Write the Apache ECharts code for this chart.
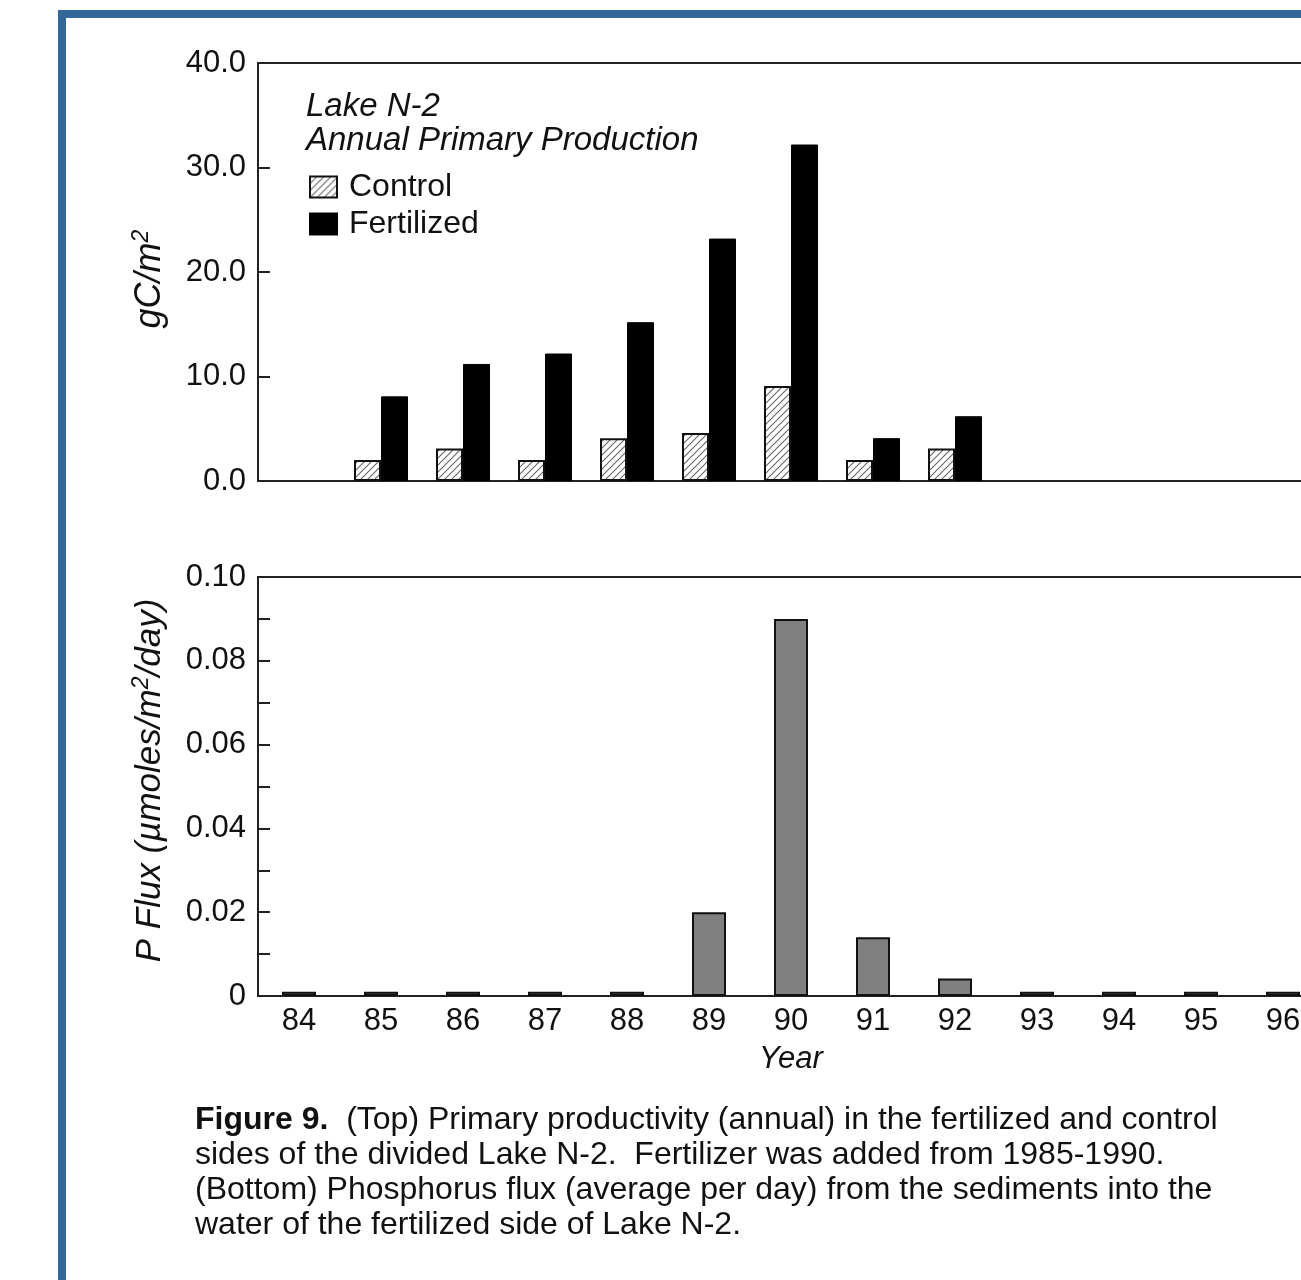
<!DOCTYPE html>
<html>
<head>
<meta charset="utf-8">
<script src="https://cdn.jsdelivr.net/npm/echarts@6/dist/echarts.min.js"></script>
<style>
html,body{margin:0;padding:0;background:#fff;overflow:hidden;}
#chart{width:1330px;height:1280px;}
</style>
</head>
<body>
<div id="chart"></div>
<script>
// ---- data ----
const years = ['84','85','86','87','88','89','90','91','92','93','94','95','96'];
const controlVals = [null, 2.0, 3.1, 2.0, 4.1, 4.6, 9.1, 2.0, 3.1, null, null, null, null];
const fertilizedVals = [null, 8.1, 11.2, 12.2, 15.2, 23.2, 32.2, 4.1, 6.2, null, null, null, null];
const pFluxVals = [0.001, 0.001, 0.001, 0.001, 0.001, 0.020, 0.090, 0.014, 0.0042, 0.001, 0.001, 0.001, 0.001];
const captionLines = [
  ['Figure 9.', '  (Top) Primary productivity (annual) in the fertilized and control'],
  ['', 'sides of the divided Lake N-2.  Fertilizer was added from 1985-1990.'],
  ['', '(Bottom) Phosphorus flux (average per day) from the sediments into the'],
  ['', 'water of the fertilized side of Lake N-2.']
];

const FONT = "'Liberation Sans', Arial, Helvetica, sans-serif";
const INK = '#111';

function hatchPattern() {
  const s = 7;
  const c = document.createElement('canvas');
  c.width = s; c.height = s;
  const g = c.getContext('2d');
  g.fillStyle = '#fff';
  g.fillRect(0, 0, s, s);
  g.strokeStyle = '#666';
  g.lineWidth = 1.1;
  g.beginPath();
  g.moveTo(-1, s + 1); g.lineTo(s + 1, -1);
  g.moveTo(-1, 1); g.lineTo(1, -1);
  g.moveTo(s - 1, s + 1); g.lineTo(s + 1, s - 1);
  g.stroke();
  return c;
}
const hatch = { image: hatchPattern(), repeat: 'repeat' };

const axisLineStyle = { color: '#222', width: 2 };

const chart = echarts.init(document.getElementById('chart'), null, { renderer: 'canvas' });

const captionText = captionLines.map(l => (l[0] ? '{b|' + l[0] + '}' : '') + '{n|' + l[1] + '}').join('\n');

chart.setOption({
  animation: false,
  backgroundColor: '#fff',
  textStyle: { fontFamily: FONT, color: INK },
  title: {
    text: 'Lake N-2\nAnnual Primary Production',
    left: 306, top: 90, padding: 0,
    textStyle: { fontFamily: FONT, fontSize: 33, fontStyle: 'italic', fontWeight: 'normal', lineHeight: 34, color: INK }
  },
  legend: {
    data: ['Control', 'Fertilized'],
    orient: 'vertical',
    left: 309, top: 171, padding: 0,
    itemWidth: 27, itemHeight: 21, itemGap: 5,
    selectedMode: false,
    icon: 'rect',
    textStyle: { fontFamily: FONT, fontSize: 32, color: INK, lineHeight: 30, padding: [0, 0, 0, 7] }
  },
  grid: [
    { left: 258, top: 63, width: 1066, height: 418, show: true, borderColor: '#222', borderWidth: 2, backgroundColor: 'transparent' },
    { left: 258, top: 577, width: 1066, height: 419, show: true, borderColor: '#222', borderWidth: 2, backgroundColor: 'transparent' }
  ],
  xAxis: [
    {
      gridIndex: 0, type: 'category', data: years,
      axisLine: { lineStyle: axisLineStyle },
      axisTick: { inside: true, length: 7, interval: 0, lineStyle: { color: '#222', width: 2 } },
      axisLabel: { show: false },
      splitLine: { show: false }
    },
    {
      gridIndex: 1, type: 'category', data: years,
      axisLine: { lineStyle: axisLineStyle },
      axisTick: { inside: true, length: 7, interval: 0, lineStyle: { color: '#222', width: 2 } },
      axisLabel: { fontFamily: FONT, fontSize: 31, color: INK, margin: 10, interval: 0 },
      splitLine: { show: false },
      name: 'Year', nameLocation: 'middle', nameGap: 48,
      nameTextStyle: { fontFamily: FONT, fontSize: 31, fontStyle: 'italic', color: INK }
    }
  ],
  yAxis: [
    {
      gridIndex: 0, type: 'value', min: 0, max: 40, interval: 10,
      axisLine: { show: true, lineStyle: axisLineStyle },
      axisTick: { show: true, inside: true, length: 12, lineStyle: { color: '#222', width: 2 } },
      axisLabel: { fontFamily: FONT, fontSize: 31, color: INK, margin: 12, formatter: v => v.toFixed(1) },
      splitLine: { show: false },
      name: '{a|gC/m}{s|2}', nameLocation: 'middle', nameGap: 88, nameRotate: 90,
      nameTextStyle: {
        padding: [0, 14, 0, 0],
        rich: {
          a: { fontFamily: FONT, fontSize: 36, fontStyle: 'italic', color: INK, lineHeight: 40 },
          s: { fontFamily: FONT, fontSize: 23, fontStyle: 'italic', color: INK, verticalAlign: 'top', lineHeight: 40 }
        }
      }
    },
    {
      gridIndex: 1, type: 'value', min: 0, max: 0.1, interval: 0.01,
      axisLine: { show: true, lineStyle: axisLineStyle },
      axisTick: { show: true, inside: true, length: 12, lineStyle: { color: '#222', width: 2 } },
      axisLabel: {
        fontFamily: FONT, fontSize: 31, color: INK, margin: 12,
        formatter: v => { const k = Math.round(v * 100); if (k % 2) return ''; return k === 0 ? '0' : (k / 100).toFixed(2); }
      },
      splitLine: { show: false },
      name: '{a|P Flux (µmoles/m}{s|2}{a|/day)}', nameLocation: 'middle', nameGap: 88, nameRotate: 90,
      nameTextStyle: {
        padding: [0, 0, 0, 12],
        rich: {
          a: { fontFamily: FONT, fontSize: 35, fontStyle: 'italic', color: INK, lineHeight: 40 },
          s: { fontFamily: FONT, fontSize: 23, fontStyle: 'italic', color: INK, verticalAlign: 'top', lineHeight: 40 }
        }
      }
    }
  ],
  series: [
    {
      name: 'Control', type: 'bar', xAxisIndex: 0, yAxisIndex: 0,
      data: controlVals, barWidth: 27, barGap: '0%',
      itemStyle: { color: hatch, borderColor: '#111', borderWidth: 2 }
    },
    {
      name: 'Fertilized', type: 'bar', xAxisIndex: 0, yAxisIndex: 0,
      data: fertilizedVals, barWidth: 27, barGap: '0%',
      itemStyle: { color: '#000', borderColor: '#000', borderWidth: 1 }
    },
    {
      name: 'P Flux', type: 'bar', xAxisIndex: 1, yAxisIndex: 1,
      data: pFluxVals, barWidth: 34,
      itemStyle: { color: '#808080', borderColor: '#111', borderWidth: 2 }
    }
  ],
  graphic: [
    { type: 'rect', shape: { x: 58, y: 10, width: 1300, height: 8 }, style: { fill: '#336699' }, z: 100 },
    { type: 'rect', shape: { x: 58, y: 10, width: 8, height: 1300 }, style: { fill: '#336699' }, z: 100 },
    {
      type: 'text', left: 195, top: 1104, z: 100,
      style: {
        text: captionText,
        fill: INK,
        rich: {
          b: { fontFamily: FONT, fontSize: 32, fontWeight: 'bold', lineHeight: 35, fill: INK },
          n: { fontFamily: FONT, fontSize: 32, lineHeight: 35, fill: INK }
        }
      }
    }
  ]
});
</script>
</body>
</html>
